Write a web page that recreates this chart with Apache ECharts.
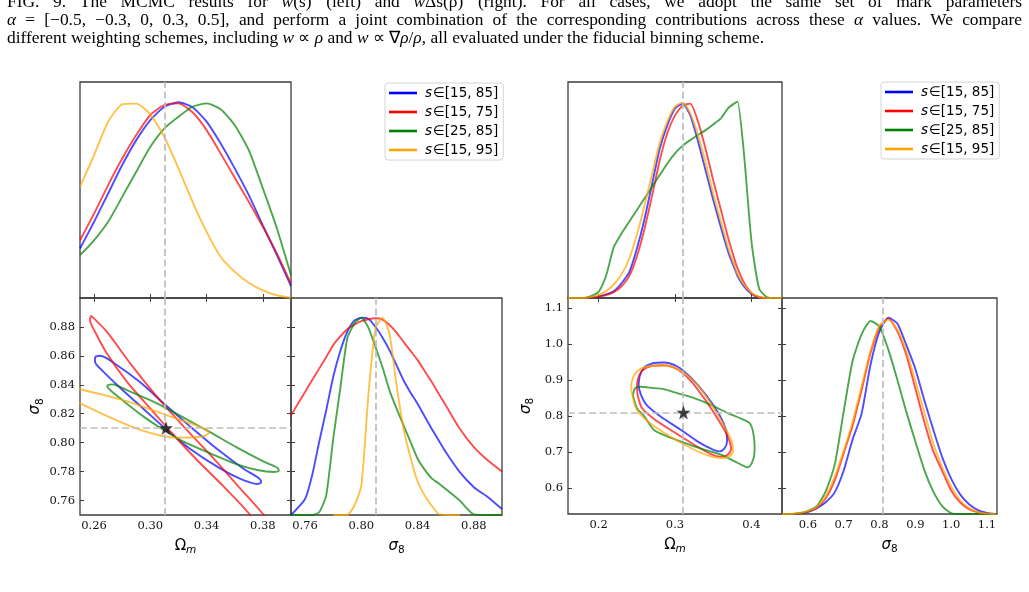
<!DOCTYPE html>
<html>
<head>
<meta charset="utf-8">
<script src="https://cdn.jsdelivr.net/npm/echarts@6/dist/echarts.min.js"></script>
<style>
  html, body { margin: 0; padding: 0; background: #fff; }
  #chart { width: 1029px; height: 592px; }
</style>
</head>
<body>
<div id="chart"></div>
<script>
// fiducial values
const omFid = 0.3111;
const s8Fid = 0.8102;

const names = ["s∈[15, 85]", "s∈[15, 75]", "s∈[25, 85]", "s∈[15, 95]"];
const colors = ["#0000ff", "#ff0000", "#008000", "#ffa500"];

// left figure, Omega_m marginal
const omGridL = [0.25, 0.26, 0.27, 0.28, 0.29, 0.30, 0.31, 0.32, 0.33, 0.34, 0.35, 0.36, 0.37, 0.38, 0.39, 0.40];
const omBlueL = [0.252, 0.388, 0.532, 0.677, 0.804, 0.906, 0.974, 0.997, 0.971, 0.898, 0.787, 0.66, 0.524, 0.37, 0.218, 0.061];
const omRedL = [0.294, 0.43, 0.575, 0.71, 0.83, 0.932, 0.983, 0.991, 0.946, 0.855, 0.736, 0.612, 0.49, 0.362, 0.226, 0.073];
const omGreenL = [0.218, 0.294, 0.388, 0.515, 0.643, 0.77, 0.864, 0.923, 0.974, 0.991, 0.961, 0.88, 0.753, 0.558, 0.354, 0.116];
const omOrangeL = [0.566, 0.728, 0.898, 0.986, 0.99, 0.935, 0.82, 0.66, 0.49, 0.337, 0.21, 0.133, 0.078, 0.039, 0.014, 0.0];

// left figure, sigma_8 marginal
const sgGridL = [0.75, 0.76, 0.765, 0.77, 0.775, 0.78, 0.785, 0.79, 0.795, 0.80, 0.805, 0.81, 0.815, 0.82, 0.825, 0.83, 0.835, 0.84, 0.845, 0.85, 0.855, 0.86, 0.87, 0.88, 0.89, 0.90];
const sgBlueL = [0, 0.081, 0.2, 0.369, 0.53, 0.7, 0.83, 0.929, 0.985, 1.0, 0.995, 0.954, 0.9, 0.836, 0.76, 0.683, 0.62, 0.564, 0.5, 0.437, 0.378, 0.319, 0.217, 0.141, 0.09, 0.03];
const sgRedL = [0.505, 0.624, 0.683, 0.742, 0.80, 0.861, 0.905, 0.942, 0.965, 0.983, 0.992, 0.997, 0.99, 0.963, 0.925, 0.878, 0.832, 0.785, 0.73, 0.675, 0.615, 0.556, 0.437, 0.344, 0.276, 0.22];
const sgGreenL = [0, 0, 0, 0.014, 0.098, 0.386, 0.64, 0.895, 0.97, 1.0, 0.95, 0.853, 0.75, 0.632, 0.54, 0.454, 0.37, 0.285, 0.23, 0.186, 0.16, 0.132, 0.073, 0.003, 0, 0];
const sgOrangeL = [null, null, null, null, null, 0, 0, 0, 0.047, 0.149, 0.607, 0.946, 1.0, 0.92, 0.66, 0.44, 0.29, 0.17, 0.1, 0.047, 0.005, 0, 0, null, null, null];

// left figure, 2D contours [Omega_m, sigma_8]
const ctBlueL = [[0.2607, 0.8594], [0.2643, 0.8601], [0.2761, 0.8537], [0.2928, 0.8417], [0.3094, 0.8272], [0.3284, 0.8111], [0.3475, 0.7956], [0.3665, 0.7818], [0.3772, 0.7754], [0.3788, 0.7726], [0.376, 0.7714], [0.3641, 0.7749], [0.3475, 0.7834], [0.3284, 0.7956], [0.3118, 0.8088], [0.2952, 0.8233], [0.2785, 0.838], [0.2655, 0.8502], [0.2607, 0.8559], [0.2607, 0.8594]];
const ctRedL = [[0.2578, 0.8878], [0.269, 0.8767], [0.2857, 0.8548], [0.3047, 0.8318], [0.3237, 0.8111], [0.3427, 0.7915], [0.3617, 0.7707], [0.3796, 0.7512], [0.3867, 0.7408], [0.3879, 0.735], [0.3843, 0.7339], [0.3784, 0.7385], [0.37, 0.7512], [0.3522, 0.7696], [0.3332, 0.788], [0.3166, 0.8053], [0.2999, 0.8237], [0.2833, 0.8422], [0.269, 0.8618], [0.2607, 0.8767], [0.2571, 0.8848], [0.2578, 0.8878]];
const ctGreenL = [[0.269, 0.8394], [0.2726, 0.8403], [0.2857, 0.8353], [0.3047, 0.8272], [0.3237, 0.8173], [0.3427, 0.8071], [0.3617, 0.7966], [0.3807, 0.7869], [0.3902, 0.7827], [0.3914, 0.7807], [0.3879, 0.7797], [0.376, 0.7811], [0.3617, 0.785], [0.3427, 0.7926], [0.3237, 0.8007], [0.3094, 0.8088], [0.2952, 0.818], [0.2809, 0.8288], [0.2714, 0.8364], [0.269, 0.8394]];
const ctOrangeL = [[0.2405, 0.8389], [0.25, 0.8369], [0.2666, 0.833], [0.2857, 0.8279], [0.3047, 0.8214], [0.3213, 0.8157], [0.3356, 0.8108], [0.3415, 0.8071], [0.3391, 0.8048], [0.3308, 0.8037], [0.3189, 0.8035], [0.3094, 0.8044], [0.2952, 0.8081], [0.2809, 0.8134], [0.2666, 0.8196], [0.25, 0.8272], [0.2405, 0.8318]];

// right figure, Omega_m marginal
const omGridR = [0.16, 0.17, 0.18, 0.19, 0.20, 0.21, 0.22, 0.23, 0.24, 0.25, 0.26, 0.27, 0.28, 0.29, 0.30, 0.31, 0.32, 0.33, 0.34, 0.35, 0.36, 0.37, 0.38, 0.382, 0.39, 0.40, 0.41, 0.42, 0.43, 0.44];
const omBlueR = [0, 0, 0, 0.003, 0.008, 0.018, 0.035, 0.075, 0.13, 0.25, 0.40, 0.58, 0.76, 0.88, 0.965, 0.99, 0.93, 0.80, 0.65, 0.50, 0.36, 0.23, 0.13, 0.11, 0.06, 0.02, 0.003, 0, 0, 0];
const omRedR = [0, 0, 0, 0.003, 0.007, 0.015, 0.03, 0.06, 0.11, 0.21, 0.35, 0.52, 0.70, 0.84, 0.93, 0.98, 0.99, 0.90, 0.76, 0.60, 0.45, 0.30, 0.17, 0.15, 0.08, 0.025, 0.005, 0, 0, 0];
const omGreenR = [0, 0, 0, 0.01, 0.031, 0.116, 0.26, 0.328, 0.388, 0.447, 0.507, 0.566, 0.626, 0.685, 0.736, 0.776, 0.804, 0.83, 0.855, 0.884, 0.915, 0.969, 0.997, 1.0, 0.745, 0.29, 0.048, 0.005, 0, 0];
const omOrangeR = [0, 0, 0, 0.005, 0.015, 0.035, 0.07, 0.12, 0.20, 0.32, 0.47, 0.63, 0.79, 0.90, 0.975, 0.995, 0.94, 0.83, 0.69, 0.53, 0.39, 0.25, 0.14, 0.12, 0.07, 0.025, 0.005, 0, 0, 0];

// right figure, sigma_8 marginal
const sgGridR = [0.528, 0.55, 0.575, 0.6, 0.625, 0.65, 0.675, 0.7, 0.725, 0.75, 0.775, 0.8, 0.825, 0.85, 0.875, 0.9, 0.925, 0.95, 0.975, 1.0, 1.025, 1.05, 1.075, 1.1, 1.125];
const sgBlueR = [0, 0, 0.003, 0.01, 0.03, 0.06, 0.11, 0.22, 0.38, 0.51, 0.76, 0.93, 1.0, 0.97, 0.86, 0.74, 0.58, 0.43, 0.29, 0.18, 0.10, 0.05, 0.02, 0.005, 0];
const sgRedR = [0, 0, 0.003, 0.012, 0.03, 0.08, 0.17, 0.31, 0.45, 0.63, 0.82, 0.95, 0.995, 0.93, 0.81, 0.64, 0.47, 0.32, 0.22, 0.12, 0.06, 0.025, 0.008, 0.002, 0];
const sgGreenR = [0, 0, 0.003, 0.015, 0.04, 0.115, 0.25, 0.52, 0.78, 0.915, 0.983, 0.954, 0.836, 0.683, 0.52, 0.37, 0.225, 0.115, 0.04, 0.005, 0, 0, 0, 0, 0];
const sgOrangeR = [0, 0, 0.005, 0.015, 0.035, 0.09, 0.19, 0.32, 0.47, 0.65, 0.83, 0.96, 0.99, 0.94, 0.83, 0.68, 0.52, 0.36, 0.24, 0.14, 0.07, 0.03, 0.01, 0.002, 0];

// right figure, 2D contours [Omega_m, sigma_8]
const ctBlueR = [[0.2537, 0.9099], [0.259, 0.933], [0.27, 0.946], [0.2854, 0.9487], [0.303, 0.9377], [0.3206, 0.9072], [0.3404, 0.8591], [0.358, 0.8037], [0.3668, 0.7621], [0.3681, 0.7298], [0.3646, 0.7094], [0.358, 0.702], [0.347, 0.7094], [0.3294, 0.7298], [0.3074, 0.7621], [0.281, 0.7991], [0.2634, 0.8296], [0.2555, 0.8591], [0.2524, 0.8868], [0.2537, 0.9099]];
const ctRedR = [[0.2511, 0.9007], [0.2568, 0.9256], [0.27, 0.9395], [0.2854, 0.9413], [0.303, 0.9302], [0.3206, 0.898], [0.3404, 0.8425], [0.3593, 0.7806], [0.3699, 0.739], [0.3734, 0.7094], [0.369, 0.6928], [0.3602, 0.6873], [0.347, 0.6946], [0.325, 0.7205], [0.2986, 0.7556], [0.2722, 0.7926], [0.2568, 0.8222], [0.2511, 0.8591], [0.2502, 0.8822], [0.2511, 0.9007]];
const ctGreenR = [[0.2449, 0.8591], [0.248, 0.8776], [0.2546, 0.8813], [0.2722, 0.8776], [0.2854, 0.8748], [0.303, 0.8637], [0.325, 0.8499], [0.347, 0.8314], [0.369, 0.8083], [0.3866, 0.7926], [0.3976, 0.7806], [0.402, 0.7575], [0.4042, 0.7159], [0.4029, 0.6836], [0.3954, 0.6577], [0.3822, 0.6697], [0.3602, 0.6928], [0.3426, 0.7039], [0.325, 0.7159], [0.3074, 0.7298], [0.2898, 0.7436], [0.2722, 0.7621], [0.2599, 0.7991], [0.2502, 0.8222], [0.2449, 0.8591]];
const ctOrangeR = [[0.2436, 0.8979], [0.2493, 0.922], [0.2634, 0.9377], [0.2854, 0.9404], [0.3074, 0.9256], [0.3294, 0.8868], [0.3479, 0.8314], [0.3646, 0.7713], [0.3743, 0.7298], [0.376, 0.7039], [0.3712, 0.6882], [0.3602, 0.6836], [0.3426, 0.691], [0.3206, 0.7113], [0.2898, 0.7483], [0.2634, 0.7871], [0.2502, 0.8175], [0.2445, 0.8545], [0.2427, 0.8822], [0.2436, 0.8979]];

// axis ranges and tick values
const omRangeL = [0.25, 0.40];
const sgRangeL = [0.75, 0.90];
const omRangeR = [0.16, 0.44];
const sgRangeR = [0.528, 1.128];
const densRange = [0, 1.1];
const omTicksL = [0.26, 0.30, 0.34, 0.38];
const sgTicksL = [0.76, 0.78, 0.80, 0.82, 0.84, 0.86, 0.88];
const sgLabelsL = [0.76, 0.80, 0.84, 0.88];
const omTicksR = [0.2, 0.3, 0.4];
const sgTicksR = [0.6, 0.7, 0.8, 0.9, 1.0, 1.1];

const frame = "#3d3d3d";
const serif = '"DejaVu Serif", serif';
const sans = '"DejaVu Sans", sans-serif';

const chart = echarts.init(document.getElementById("chart"));

const pairs = (xs, ys) => xs.map((x, i) => [x, ys[i]]);

function curve(k, data, xi, yi, smooth) {
  return {
    type: "line",
    name: names[k],
    xAxisIndex: xi,
    yAxisIndex: yi,
    data: data,
    symbol: "none",
    showSymbol: false,
    smooth: smooth,
    silent: true,
    z: 3,
    lineStyle: { color: colors[k], width: 1.9, opacity: 0.7 },
    itemStyle: { color: colors[k] }
  };
}

function dashed(xi, yi, lines) {
  return {
    type: "line",
    xAxisIndex: xi,
    yAxisIndex: yi,
    data: [],
    silent: true,
    z: 1,
    markLine: {
      silent: true,
      symbol: "none",
      label: { show: false },
      animation: false,
      lineStyle: { color: "#bdbdbd", type: [7, 3.5], width: 1.7 },
      data: lines
    }
  };
}

const mathName = (a, b, italicA) => ({
  text: "{a|" + a + "}{b|" + b + "}",
  rich: {
    a: { fontFamily: sans, fontSize: 15, fontStyle: italicA ? "italic" : "normal", color: "#000" },
    b: { fontFamily: sans, fontSize: 10.5, fontStyle: italicA ? "normal" : "italic", color: "#000", padding: [9, 0, 0, 0] }
  }
});

function axis(gi, range, o) {
  o = o || {};
  const ax = {
    type: "value",
    gridIndex: gi,
    min: range[0],
    max: range[1],
    position: o.pos,
    show: !o.hidden,
    axisLine: { show: false },
    splitLine: { show: false },
    axisTick: o.ticks
      ? { show: true, inside: true, length: 4, lineStyle: { color: frame, width: 1 }, customValues: o.ticks }
      : { show: false },
    axisLabel: o.labels
      ? {
          show: true,
          customValues: o.labels,
          formatter: v => v.toFixed(o.dec),
          fontFamily: serif,
          fontSize: 11.5,
          color: "#111",
          margin: 5
        }
      : { show: false }
  };
  if (o.name) {
    ax.name = o.name.text;
    ax.nameLocation = "middle";
    ax.nameGap = o.gap;
    ax.nameTextStyle = { rich: o.name.rich };
  }
  return ax;
}

const omName = mathName("Ω", "m", false);
const sgName = mathName("σ", "8", true);

const xAxes = [
  axis(0, omRangeL, { ticks: omTicksL }),                                        // 0 L top
  axis(1, omRangeL, { labels: omTicksL, dec: 2, name: omName, gap: 21 }),        // 1 L 2D bottom
  axis(1, omRangeL, { pos: "top", ticks: omTicksL }),                            // 2 L 2D top
  axis(2, sgRangeL, { labels: sgLabelsL, dec: 2, name: sgName, gap: 21 }),       // 3 L sig8
  axis(3, omRangeR, { ticks: omTicksR }),                                        // 4 R top
  axis(4, omRangeR, { labels: omTicksR, dec: 1, name: omName, gap: 21 }),        // 5 R 2D bottom
  axis(4, omRangeR, { pos: "top", ticks: omTicksR }),                            // 6 R 2D top
  axis(5, sgRangeR, { labels: sgTicksR, dec: 1, name: sgName, gap: 21 })         // 7 R sig8
];

const yAxes = [
  axis(0, densRange, { hidden: true }),                                          // 0
  axis(1, sgRangeL, { ticks: sgTicksL, labels: sgTicksL, dec: 2, name: sgName, gap: 32 }), // 1
  axis(1, sgRangeL, { pos: "right", ticks: sgTicksL }),                          // 2
  axis(2, densRange, { hidden: true }),                                          // 3
  axis(2, sgRangeL, { pos: "left", ticks: sgTicksL }),                           // 4
  axis(3, densRange, { hidden: true }),                                          // 5
  axis(4, sgRangeR, { ticks: sgTicksR, labels: sgTicksR, dec: 1, name: sgName, gap: 32 }), // 6
  axis(4, sgRangeR, { pos: "right", ticks: sgTicksR }),                          // 7
  axis(5, densRange, { hidden: true }),                                          // 8
  axis(5, sgRangeR, { pos: "left", ticks: sgTicksR })                            // 9
];

const grids = [
  { left: 80, top: 82, width: 211, height: 216 },
  { left: 80, top: 298, width: 211, height: 217 },
  { left: 291, top: 298, width: 211, height: 217 },
  { left: 568, top: 82, width: 214, height: 216 },
  { left: 568, top: 298, width: 214, height: 216 },
  { left: 782, top: 298, width: 215, height: 216 }
].map(g => Object.assign(g, { show: true, borderColor: frame, borderWidth: 1.3, backgroundColor: "transparent" }));

const starPath = "path://M0,-10L2.35,-3.24L9.51,-3.09L3.8,1.24L5.88,8.09L0,4L-5.88,8.09L-3.8,1.24L-9.51,-3.09L-2.35,-3.24Z";

function star(xi, yi) {
  return {
    type: "scatter",
    xAxisIndex: xi,
    yAxisIndex: yi,
    data: [[omFid, s8Fid]],
    symbol: starPath,
    symbolSize: 14,
    silent: true,
    z: 10,
    itemStyle: { color: "#111" }
  };
}

const sm = 0.2;
const cs = 0.3;
const series = [
  dashed(0, 0, [{ xAxis: omFid }]),
  curve(0, pairs(omGridL, omBlueL), 0, 0, sm),
  curve(1, pairs(omGridL, omRedL), 0, 0, sm),
  curve(2, pairs(omGridL, omGreenL), 0, 0, sm),
  curve(3, pairs(omGridL, omOrangeL), 0, 0, sm),

  dashed(1, 1, [{ xAxis: omFid }, { yAxis: s8Fid }]),
  curve(0, ctBlueL, 1, 1, cs),
  curve(1, ctRedL, 1, 1, cs),
  curve(2, ctGreenL, 1, 1, cs),
  curve(3, ctOrangeL, 1, 1, cs),
  star(1, 1),

  dashed(3, 3, [{ xAxis: s8Fid }]),
  curve(0, pairs(sgGridL, sgBlueL), 3, 3, sm),
  curve(1, pairs(sgGridL, sgRedL), 3, 3, sm),
  curve(2, pairs(sgGridL, sgGreenL), 3, 3, sm),
  curve(3, pairs(sgGridL, sgOrangeL), 3, 3, sm),

  dashed(4, 5, [{ xAxis: omFid }]),
  curve(0, pairs(omGridR, omBlueR), 4, 5, sm),
  curve(1, pairs(omGridR, omRedR), 4, 5, sm),
  curve(2, pairs(omGridR, omGreenR), 4, 5, sm),
  curve(3, pairs(omGridR, omOrangeR), 4, 5, sm),

  dashed(5, 6, [{ xAxis: omFid }, { yAxis: s8Fid }]),
  curve(0, ctBlueR, 5, 6, cs),
  curve(1, ctRedR, 5, 6, cs),
  curve(2, ctGreenR, 5, 6, cs),
  curve(3, ctOrangeR, 5, 6, cs),
  star(5, 6),

  dashed(7, 8, [{ xAxis: s8Fid }]),
  curve(0, pairs(sgGridR, sgBlueR), 7, 8, sm),
  curve(1, pairs(sgGridR, sgRedR), 7, 8, sm),
  curve(2, pairs(sgGridR, sgGreenR), 7, 8, sm),
  curve(3, pairs(sgGridR, sgOrangeR), 7, 8, sm)
];

function legendAt(left, top) {
  return {
    left: left,
    top: top,
    orient: "vertical",
    data: names,
    icon: "rect",
    itemWidth: 28,
    itemHeight: 2.6,
    itemGap: 5,
    padding: [3, 5, 3, 4],
    borderColor: "#d4d4d4",
    borderWidth: 1,
    borderRadius: 3,
    backgroundColor: "#fff",
    selectedMode: false,
    itemStyle: { opacity: 1 },
    formatter: n => "{i|s}" + n.slice(1),
    textStyle: {
      fontFamily: sans,
      fontSize: 13.5,
      lineHeight: 14,
      color: "#000",
      rich: { i: { fontFamily: sans, fontSize: 13.5, fontStyle: "italic", lineHeight: 14, padding: [0, 1, 0, 3] } }
    }
  };
}

// caption text above the figure (justified lines)
const capFont = "Liberation Serif";
const capSize = 17.4;
const captionLines = [
  { y: 2, justify: true, text: "FIG. 9. The MCMC results for {i|w}(s) (left) and {i|w}Δs(ρ) (right). For all cases, we adopt the same set of mark parameters" },
  { y: 20.5, justify: true, text: "{i|α} = [−0.5, −0.3, 0, 0.3, 0.5], and perform a joint combination of the corresponding contributions across these {i|α} values. We compare" },
  { y: 38, justify: false, text: "different weighting schemes, including {i|w} ∝ {i|ρ} and {i|w} ∝ ∇{i|ρ}/{i|ρ}, all evaluated under the fiducial binning scheme." }
];

const measure = document.createElement("canvas").getContext("2d");
measure.font = capSize + 'px "' + capFont + '"';
const plain = s => s.replace(/\{i\|([^}]*)\}/g, "$1");

function textEl(str, x, y) {
  return {
    type: "text",
    x: x,
    y: y,
    silent: true,
    style: {
      text: str,
      fontFamily: capFont,
      fontSize: capSize,
      fill: "#000",
      verticalAlign: "middle",
      rich: { i: { fontFamily: capFont, fontSize: capSize, fontStyle: "italic", fill: "#000" } }
    }
  };
}

const graphic = [];
const capLeft = 7;
const capRight = 1022;
captionLines.forEach(line => {
  if (!line.justify) {
    graphic.push(textEl(line.text, capLeft, line.y));
    return;
  }
  const words = line.text.split(" ");
  const widths = words.map(w => measure.measureText(plain(w)).width);
  const total = widths.reduce((a, b) => a + b, 0);
  const gap = Math.max(3, (capRight - capLeft - total) / (words.length - 1));
  let x = capLeft;
  words.forEach((w, i) => {
    graphic.push(textEl(w, x, line.y));
    x += widths[i] + gap;
  });
});

chart.setOption({
  animation: false,
  backgroundColor: "#fff",
  grid: grids,
  xAxis: xAxes,
  yAxis: yAxes,
  legend: [legendAt(385, 83), legendAt(881, 82)],
  graphic: graphic,
  series: series
});
</script>
</body>
</html>
